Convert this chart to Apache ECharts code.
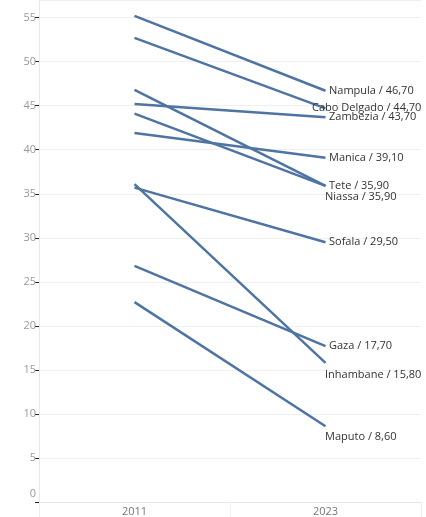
<!DOCTYPE html>
<html><head><meta charset="utf-8">
<script src="https://cdn.jsdelivr.net/npm/echarts@6/dist/echarts.min.js"></script>
<style>html,body{margin:0;padding:0;background:#fff}#c{width:426px;height:517px}</style>
</head><body><div id="c"></div>
<script>
const years = ['2011', '2023'];
const provinces = ['Nampula', 'Cabo Delgado', 'Zambezia', 'Manica', 'Tete', 'Niassa', 'Sofala', 'Inhambane', 'Gaza', 'Maputo'];
const values2011 = [55.2, 52.7, 45.2, 41.9, 46.8, 44.1, 35.7, 36.1, 26.8, 22.7];
const values2023 = [46.7, 44.7, 43.7, 39.1, 35.9, 35.9, 29.5, 15.8, 17.7, 8.6];
const labelDx = [0, -17, 0, 0, 0, -4, 0, -4, 0, -4];
const labelDy = [0, 0, 0, 0, 0, 11, 0, 12, 0, 11];
const yTicks = [0, 5, 10, 15, 20, 25, 30, 35, 40, 45, 50, 55];

const fmt = v => v.toFixed(2).replace('.', ',');
const series = provinces.map((p, i) => ({
  type: 'line',
  name: p,
  symbol: 'circle',
  symbolSize: 1,
  showSymbol: true,
  showAllSymbol: true,
  clip: false,
  lineStyle: { color: '#4e74a3', width: 2.5 },
  itemStyle: { color: 'rgba(0,0,0,0)', borderWidth: 0 },
  emphasis: { disabled: true },
  labelLayout: { hideOverlap: false, dx: labelDx[i], dy: labelDy[i] },
  data: [
    { value: values2011[i] },
    { value: values2023[i], label: {
      show: true, position: 'right', distance: 3,
      color: '#333', fontSize: 11, fontFamily: 'Open Sans',
      formatter: p + ' / ' + fmt(values2023[i])
    } }
  ]
}));

const chart = echarts.init(document.getElementById('c'), null, { renderer: 'canvas' });
chart.setOption({
  animation: false,
  grid: { left: 39, right: 5, top: 0, bottom: 15, containLabel: false },
  xAxis: {
    type: 'category', data: years, boundaryGap: true,
    axisLine: { show: true, lineStyle: { color: '#e8e8e8' } },
    axisTick: { show: true, length: 15, lineStyle: { color: '#eeeeee' } },
    axisLabel: { color: '#777', fontSize: 11, fontFamily: 'Open Sans', margin: 4 },
    splitLine: { show: false }
  },
  yAxis: {
    type: 'value', min: 0, max: 57, interval: 5,
    axisLine: { show: true, lineStyle: { color: '#e8e8e8' } },
    axisTick: { show: true, length: 4, lineStyle: { color: '#222' } },
    axisLabel: { color: '#999', fontSize: 11, fontFamily: 'Open Sans', margin: 3, showMaxLabel: false,
      formatter: v => v === 0 ? '{z|0}' : (yTicks.includes(v) ? String(v) : ''),
      rich: { z: { color: '#999', fontSize: 11, fontFamily: 'Open Sans', padding: [0, 0, 16, 0] } } },
    splitLine: { show: true, lineStyle: { color: '#f0f0f0' } }
  },
  series: series
});
</script>
</body></html>
